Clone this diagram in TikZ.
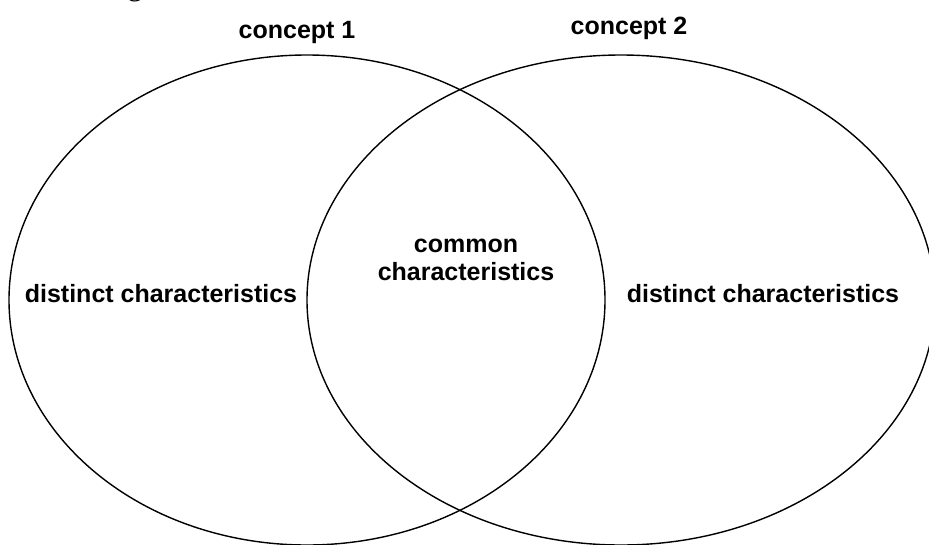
\documentclass[tikz,border=0pt]{standalone}
\usepackage{fontspec}
\setmainfont{Liberation Sans}
\newfontfamily\serifface{Liberation Serif}
\begin{document}
\begin{tikzpicture}[x=1pt,y=-1pt,
  setline/.style={line width=1.4pt,black},
  lbl/.style={font=\fontsize{25}{28}\selectfont\bfseries,inner sep=0pt,align=center}]
  \useasboundingbox (0,0) rectangle (929,544);
  \clip (0,0) rectangle (929,544);
  % descender of a line of text above the figure
  \node[font=\serifface\fontsize{30}{30}\selectfont,anchor=base,inner sep=0pt] (frag) at (135,-5) {g};
  % the two overlapping sets
  \draw[setline] (307,300) ellipse [x radius=298, y radius=245];
  \draw[setline] (621,300) ellipse [x radius=314, y radius=245];
  % set titles
  \node[lbl,anchor=base] (c1) at (297,38) {concept 1};
  \node[lbl,anchor=base] (c2) at (629,34) {concept 2};
  % region labels
  \node[lbl,anchor=base] (dl) at (161,302) {distinct characteristics};
  \node[lbl,anchor=base] (dr) at (763,302) {distinct characteristics};
  \node[lbl,anchor=base] (cm) at (466,280) {common\\characteristics};
\end{tikzpicture}
\end{document}
